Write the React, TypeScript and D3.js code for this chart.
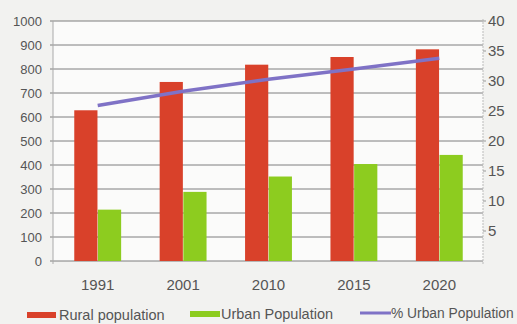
import React from "react";
import * as d3 from "d3";

const categories = ["1991", "2001", "2010", "2015", "2020"];
const ruralPopulation = [628, 746, 818, 850, 882];
const urbanPopulation = [214, 288, 352, 404, 442];
const urbanPercent = [25.9, 28.3, 30.3, 32.0, 33.8];
const leftTicks = [0, 100, 200, 300, 400, 500, 600, 700, 800, 900, 1000];
const rightTicks = [5, 10, 15, 20, 25, 30, 35, 40];

const W = 517;
const H = 324;
const plotLeft = 53;
const plotRight = 483;
const yBottom = 261;
const yTop = 21;

const RED = "#d9412a";
const GREEN = "#8dcc1f";
const PURPLE = "#7f72c6";
const TEXT = "#555555";
const FONT = "'Liberation Sans', Arial, sans-serif";

export default function App() {
  const x0 = d3.scaleBand<string>().domain(categories).range([plotLeft + 2, plotRight - 1]).paddingInner(0.44).paddingOuter(0.22);
  const x1 = d3.scaleBand<string>().domain(["rural", "urban"]).range([0, x0.bandwidth()]).padding(0.02);
  const yL = d3.scaleLinear().domain([0, 1000]).range([yBottom, yTop]);
  const yR = d3.scaleLinear().domain([0, 40]).range([yBottom, yTop]);
  const cx = (c: string) => (x0(c) as number) + x0.bandwidth() / 2;

  const line = d3
    .line<number>()
    .x((_, i) => cx(categories[i]))
    .y((d) => yR(d));

  return (
    <svg
      width={W}
      height={H}
      style={{ position: "absolute", left: 0, top: 0, display: "block" }}
      fontFamily={FONT}
    >
      <rect x={0} y={0} width={W} height={H} fill="#f2f2f0" />
      <rect x={plotLeft} y={yTop} width={plotRight - plotLeft} height={yBottom - yTop} fill="#fbfbfa" />
      {leftTicks.map((t) => (
        <line key={"g" + t} x1={plotLeft - 3} x2={plotRight} y1={yL(t)} y2={yL(t)} stroke="#555" strokeOpacity={0.75} strokeWidth={1} />
      ))}
      <line x1={plotLeft} x2={plotLeft} y1={yTop} y2={yBottom + 3} stroke="#aaa" strokeWidth={1} />
      <line x1={plotRight} x2={plotRight} y1={yTop - 2} y2={yBottom + 3} stroke="#bbb" strokeWidth={1} strokeDasharray="2,1" />
      {leftTicks.map((t) => (
        <text key={"l" + t} x={42} y={yL(t)} dy="0.35em" textAnchor="end" fontSize={13} fill={TEXT}>
          {t}
        </text>
      ))}
      {rightTicks.map((t) => (
        <g key={"r" + t}>
          <line x1={plotRight} x2={plotRight + 3} y1={yR(t)} y2={yR(t)} stroke="#999" />
          <text x={488} y={yR(t)} dy="0.35em" textAnchor="start" fontSize={15} fill={TEXT}>
            {t}
          </text>
        </g>
      ))}
      {categories.map((c, i) => (
        <g key={c} transform={`translate(${x0(c)},0)`}>
          <rect x={x1("rural")} y={yL(ruralPopulation[i])} width={x1.bandwidth()} height={yBottom - yL(ruralPopulation[i])} fill={RED} />
          <rect x={x1("urban")} y={yL(urbanPopulation[i])} width={x1.bandwidth()} height={yBottom - yL(urbanPopulation[i])} fill={GREEN} />
        </g>
      ))}
      <path d={line(urbanPercent) || ""} fill="none" stroke={PURPLE} strokeWidth={3.5} />
      {categories.map((c) => (
        <text key={"c" + c} x={cx(c)} y={290} textAnchor="middle" fontSize={15} fill={TEXT}>
          {c}
        </text>
      ))}
      <g fontSize={14.5} fill={TEXT}>
        <rect x={27} y={312} width={29} height={6} fill={RED} />
        <text x={59} y={320}>Rural population</text>
        <rect x={190} y={311} width={30} height={6} fill={GREEN} />
        <text x={221} y={319}>Urban Population</text>
        <line x1={360} x2={391} y1={313} y2={313} stroke={PURPLE} strokeWidth={3} />
        <text x={391} y={318} fontSize={13.8}>% Urban Population</text>
      </g>
    </svg>
  );
}
